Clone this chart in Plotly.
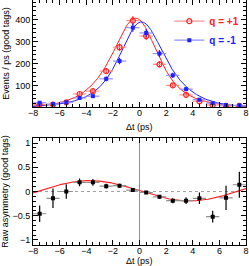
import math
import numpy as np
import plotly.graph_objects as go

# ---------------- data ----------------
dt_bins = [-7.5, -6.5, -5.5, -4.5, -3.5, -2.5, -1.5, -0.5,
           0.5, 1.5, 2.5, 3.5, 4.5, 5.5, 6.5, 7.5]
bin_half = [0.5] * 16

n_qplus = [14, 14, 24, 62, 75, 166, 275, 396, 326, 197, 101, 58, 29, 12, 8, 8]
e_qplus = [4, 4, 5, 8, 9, 13, 17, 20, 18, 14, 10, 8, 5, 3.5, 3, 3]
n_qminus = [22, 16, 24, 44, 52, 131, 212, 364, 340, 246, 147, 84, 36, 20, 12, 10]
e_qminus = [5, 4, 5, 7, 7, 11, 15, 19, 18, 16, 12, 9, 6, 4.5, 3.5, 3]

asym = [-0.46, -0.14, 0.0, 0.19, 0.19, 0.11, 0.12, 0.03,
        -0.02, -0.11, -0.19, -0.19, -0.14, -0.52, -0.13, 0.14]
asym_err = [0.17, 0.2, 0.15, 0.08, 0.07, 0.05, 0.04, 0.03,
            0.03, 0.04, 0.05, 0.07, 0.12, 0.12, 0.25, 0.27]

x_title = "Δt (ps)"
y_title_top = "Events / ps (good tags)"
y_title_bottom = "Raw asymmetry (good tags)"

# fit-model parameters (curves are the fitted model)
tau = 1.65       # ps
sigma = 0.95     # resolution, ps
t_bias = -0.08   # resolution bias, ps
amp = 0.21       # asymmetry amplitude
dm = 0.42        # ps^-1
a_off = 0.015    # asymmetry offset
n_peak = 395.0   # peak of average distribution

t = np.linspace(-8, 8, 641)


def smeared_exp(x):
    x = x - t_bias
    r = sigma / tau
    out = []
    for v in x:
        a = math.exp(-v / tau) * math.erfc((r - v / sigma) / math.sqrt(2))
        b = math.exp(v / tau) * math.erfc((r + v / sigma) / math.sqrt(2))
        out.append(0.5 * math.exp(r * r / 2) * (a + b))
    return np.array(out)


base = smeared_exp(t)
base = base / base.max() * n_peak
a_curve = a_off - amp * np.sin(dm * t)
curve_plus = base * (1 + a_curve)
curve_minus = base * (1 - a_curve)

RED = "#ff2020"
RED_L = "#ff9090"
BLUE = "#2020ff"
BLUE_L = "#9090ff"

fig = go.Figure()

# ---- top panel ----
fig.add_trace(go.Scatter(x=t, y=curve_plus, mode="lines", line=dict(color=RED, width=1),
                         showlegend=False, xaxis="x", yaxis="y"))
fig.add_trace(go.Scatter(x=t, y=curve_minus, mode="lines", line=dict(color=BLUE, width=1),
                         showlegend=False, xaxis="x", yaxis="y"))
fig.add_trace(go.Scatter(x=dt_bins, y=n_qplus, mode="markers",
                         marker=dict(symbol="circle-open", size=5, color=RED, line=dict(width=1.2)),
                         error_x=dict(type="data", array=bin_half, color=RED_L, thickness=1.2, width=0),
                         error_y=dict(type="data", array=e_qplus, color=RED, thickness=1.2, width=0),
                         showlegend=False, xaxis="x", yaxis="y"))
fig.add_trace(go.Scatter(x=dt_bins, y=n_qminus, mode="markers",
                         marker=dict(symbol="square", size=4, color=BLUE),
                         error_x=dict(type="data", array=bin_half, color=BLUE_L, thickness=1.2, width=0),
                         error_y=dict(type="data", array=e_qminus, color=BLUE, thickness=1.2, width=0),
                         showlegend=False, xaxis="x", yaxis="y"))
# legend entries
fig.add_trace(go.Scatter(x=[None], y=[None], mode="lines+markers",
                         name="<b><span style='color:#ff2020'>q = +1</span></b>",
                         marker=dict(symbol="circle-open", size=5, color=RED, line=dict(width=1.2)),
                         line=dict(color=RED_L, width=1.2), xaxis="x", yaxis="y"))
fig.add_trace(go.Scatter(x=[None], y=[None], mode="lines+markers",
                         name="<b><span style='color:#2020ff'>q = -1</span></b>",
                         marker=dict(symbol="square", size=4, color=BLUE),
                         line=dict(color=BLUE_L, width=1.2), xaxis="x", yaxis="y"))

# ---- bottom panel ----
fig.add_trace(go.Scatter(x=t, y=a_curve, mode="lines", line=dict(color=RED, width=1.2),
                         showlegend=False, xaxis="x2", yaxis="y2"))
fig.add_trace(go.Scatter(x=dt_bins, y=asym, mode="markers",
                         marker=dict(symbol="square", size=4, color="black"),
                         error_x=dict(type="data", array=bin_half, color="#909090", thickness=1.2, width=0),
                         error_y=dict(type="data", array=asym_err, color="black", thickness=1.2, width=0),
                         showlegend=False, xaxis="x2", yaxis="y2"))

FONT = "Liberation Sans"
tickfont = dict(family=FONT, size=9, color="black")
titlefont = dict(family=FONT, size=9, color="black")

xcommon = dict(range=[-8, 8], dtick=2, tick0=-8, ticks="inside", ticklen=5, tickcolor="black",
               showgrid=False, zeroline=False, showline=True, linecolor="black", linewidth=1,
               mirror="ticks", tickfont=tickfont, automargin=False, ticklabelstandoff=-3,
               minor=dict(dtick=0.5, ticks="inside", ticklen=3, tickcolor="black"))
ycommon = dict(ticks="inside", ticklen=5, tickcolor="black", showgrid=False, zeroline=False,
               showline=True, linecolor="black", linewidth=1, mirror="ticks", tickfont=tickfont,
               automargin=False)

fig.update_layout(
    width=249, height=266,
    margin=dict(l=33, r=3, t=0, b=0),
    paper_bgcolor="white", plot_bgcolor="white",
    font=dict(family=FONT, size=9, color="black"),
    xaxis=dict(**xcommon, domain=[0, 1], anchor="y"),
    yaxis=dict(**ycommon, range=[3, 490], domain=[0.598, 1.0], anchor="x", dtick=100, tick0=0,
               minor=dict(dtick=20, ticks="inside", ticklen=3, tickcolor="black"),
               title=dict(text=y_title_top, font=titlefont, standoff=4)),
    xaxis2=dict(**xcommon, domain=[0, 1], anchor="y2"),
    yaxis2=dict(**ycommon, range=[-1.1, 1.1], domain=[0.08, 0.48], anchor="x2", dtick=0.5, tick0=0,
                minor=dict(dtick=0.1, ticks="inside", ticklen=3, tickcolor="black"),
                title=dict(text=y_title_bottom, font=titlefont, standoff=4)),
    legend=dict(x=0.64, y=0.975, xanchor="left", yanchor="top", bgcolor="rgba(0,0,0,0)",
                font=dict(family=FONT, size=10, color="black"), itemwidth=30,
                tracegroupgap=0),
    annotations=[
        dict(text=x_title, xref="paper", yref="paper", x=0.5, y=0.522, xanchor="center",
             yanchor="middle", showarrow=False, font=titlefont, borderpad=0),
        dict(text=x_title, xref="paper", yref="paper", x=0.5, y=0.0, xanchor="center",
             yanchor="bottom", yshift=-1, showarrow=False, font=titlefont, borderpad=0),
    ],
    shapes=[
        dict(type="line", xref="x2", yref="y2 domain", x0=0, x1=0, y0=0, y1=1,
             line=dict(color="#909090", width=1), layer="below"),
        dict(type="line", xref="x2 domain", yref="y2", x0=0, x1=1, y0=0, y1=0,
             line=dict(color="#a0a0a0", width=1, dash="dot"), layer="below"),
    ],
)

fig.write_html("out.html", config={"displayModeBar": False},
               post_script="document.body.style.margin='0';document.body.style.overflow='hidden';")
